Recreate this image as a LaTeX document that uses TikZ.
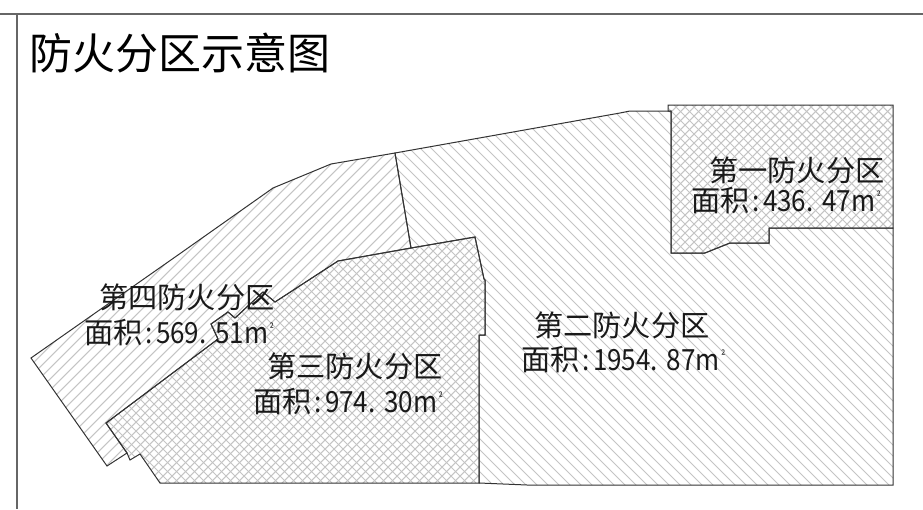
\documentclass[tikz,border=0pt]{standalone}
\usepackage{fontspec}
\setmainfont{Noto Sans CJK SC}
\newcommand{\sqm}{m\kern1.5pt\raisebox{10pt}{\fontsize{12}{12}\selectfont ²}}
% area line: CJK label at full size, digits set narrower, as printed
\newcommand{\arealine}[2]{面积\scalebox{0.89}[1]{\kern3pt:\kern4pt #1.\kern10pt #2\sqm}}
\newcommand{\zonefour}{(31,358) -- (178,255) -- (273,188) -- (331,164) -- (395,153) -- (411,248) -- (338,261) -- (275,302) -- (263,292) -- (235,318) -- (228,312) -- (211,324) -- (218,339) -- (106,423) -- (127,453) -- (107,466) -- cycle}
\newcommand{\zonethree}{(106,423) -- (218,339) -- (211,324) -- (228,312) -- (235,318) -- (263,292) -- (275,302) -- (338,261) -- (411,248) -- (475,237) -- (484,279) -- (485,280) -- (485,335) -- (479,335) -- (479,483) -- (160,483) -- (140,454) -- (130,460) -- (127,453) -- cycle}
\newcommand{\zonetwo}{(395,153) -- (620,113) -- (630,111) -- (671,111) -- (671,253) -- (705,253) -- (730,243) -- (769,243) -- (769,228) -- (893,228) -- (893,485) -- (527,485) -- (479,483) -- (479,335) -- (485,335) -- (485,280) -- (484,279) -- (475,237) -- (411,248) -- cycle}
\newcommand{\zoneone}{(668,105) -- (893,105) -- (893,228) -- (769,228) -- (769,243) -- (730,243) -- (705,253) -- (671,253) -- (671,111) -- (668,111) -- cycle}
\newcommand{\hatchdownwide}{\foreach \c in {-520,-509,...,900} \draw[hatchline] (\c,0) -- (\c+509,509);}
\newcommand{\hatchupwide}{\foreach \c in {0,11,...,1440} \draw[hatchline] (\c,0) -- (\c-509,509);}
\newcommand{\hatchcross}{\foreach \c in {-520,-511,...,900} \draw[hatchline] (\c,0) -- (\c+509,509);
  \foreach \c in {0,9,...,1440} \draw[hatchline] (\c,0) -- (\c-509,509);}
\tikzset{
  x=1pt, y=-1pt,
  hatchline/.style={draw=black!23, line width=1.05pt},
  frameline/.style={draw=black!60, line width=1.6pt},
  zoneline/.style={draw=black!80, line width=1pt, line join=miter},
  zonelabel/.style={anchor=west, inner sep=0pt, font=\fontsize{29.2}{30}\selectfont, text=black!90},
  titlelabel/.style={anchor=west, inner sep=0pt, font=\fontsize{43}{45}\selectfont, text=black}
}
\begin{document}
\begin{tikzpicture}
\useasboundingbox (0,0) rectangle (923,509);
\begin{scope}\clip \zonefour; \hatchupwide \end{scope}
\begin{scope}\clip \zonetwo; \hatchdownwide \end{scope}
\begin{scope}\clip \zonethree; \hatchcross \end{scope}
\begin{scope}\clip \zoneone; \hatchcross \end{scope}
\draw[zoneline] \zonefour;
\draw[zoneline] \zonetwo;
\draw[zoneline] \zonethree;
\draw[zoneline] \zoneone;
\draw[frameline] (0,14) -- (923,14);
\draw[frameline] (17,14) -- (17,509);
\node[titlelabel] (title) at (29,53) {防火分区示意图};
\node[zonelabel] (z1a) at (709,170) {第一防火分区};
\node[zonelabel] (z1b) at (691,201) {\arealine{436}{47}};
\node[zonelabel] (z2a) at (534,325) {第二防火分区};
\node[zonelabel] (z2b) at (521,360) {\arealine{1954}{87}};
\node[zonelabel] (z3a) at (267,366) {第三防火分区};
\node[zonelabel] (z3b) at (253,402) {\arealine{974}{30}};
\node[zonelabel] (z4a) at (99,297) {第四防火分区};
\node[zonelabel] (z4b) at (84,333) {\arealine{569}{51}};
\end{tikzpicture}
\end{document}
